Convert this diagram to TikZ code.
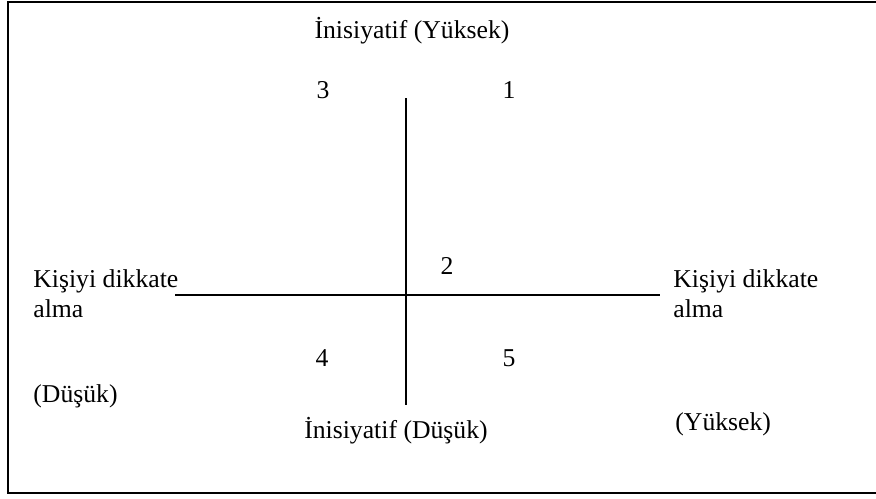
\documentclass[tikz,border=0pt]{standalone}
\usepackage{fontspec}
\setmainfont{Liberation Serif}
\begin{document}
\begin{tikzpicture}
    [x=0.5pt, y=-0.5pt,
    axis/.style={line width=1pt},
    lbl/.style={inner sep=0pt, font=\fontsize{12.85}{15}\selectfont},
    num/.style={lbl, anchor=base}]
    \useasboundingbox (0,0) rectangle (876,498);
        %% frame
    \draw[line width=1pt] (876,2) -- (8,2) -- (8,493) -- (876,493);

        %% axes
    \coordinate (T) at (406,98);
    \coordinate (B) at (406,405);
    \coordinate (L) at (175,295);
    \coordinate (R) at (660,295);
        \draw[axis] (T) -- (B);
        \draw[axis] (L) -- (R);

        %% axis labels
    \node[lbl, anchor=base] (IH) at (412,38) {İnisiyatif (Yüksek)};
    \node[lbl, anchor=base] (IL) at (396,438) {İnisiyatif (Düşük)};
    \node[lbl, anchor=base west] (KL) at (33,287) {Kişiyi dikkate};
        \node[lbl, anchor=base west] (KL2) at ([yshift=-15pt]KL.base west) {alma};
        \node[lbl, anchor=base west] (DL) at (33,402) {(Düşük)};
    \node[lbl, anchor=base west] (KR) at (673,287) {Kişiyi dikkate};
        \node[lbl, anchor=base west] (KR2) at ([yshift=-15pt]KR.base west) {alma};
        \node[lbl, anchor=base west] (YR) at (675,430) {(Yüksek)};

        %% quadrant numbers
    \node[num] (Q1) at (509,98) {1};
    \node[num] (Q2) at (447,274) {2};
    \node[num] (Q3) at (323,98) {3};
    \node[num] (Q4) at (322,366) {4};
    \node[num] (Q5) at (509,366) {5};
\end{tikzpicture}
\end{document}
